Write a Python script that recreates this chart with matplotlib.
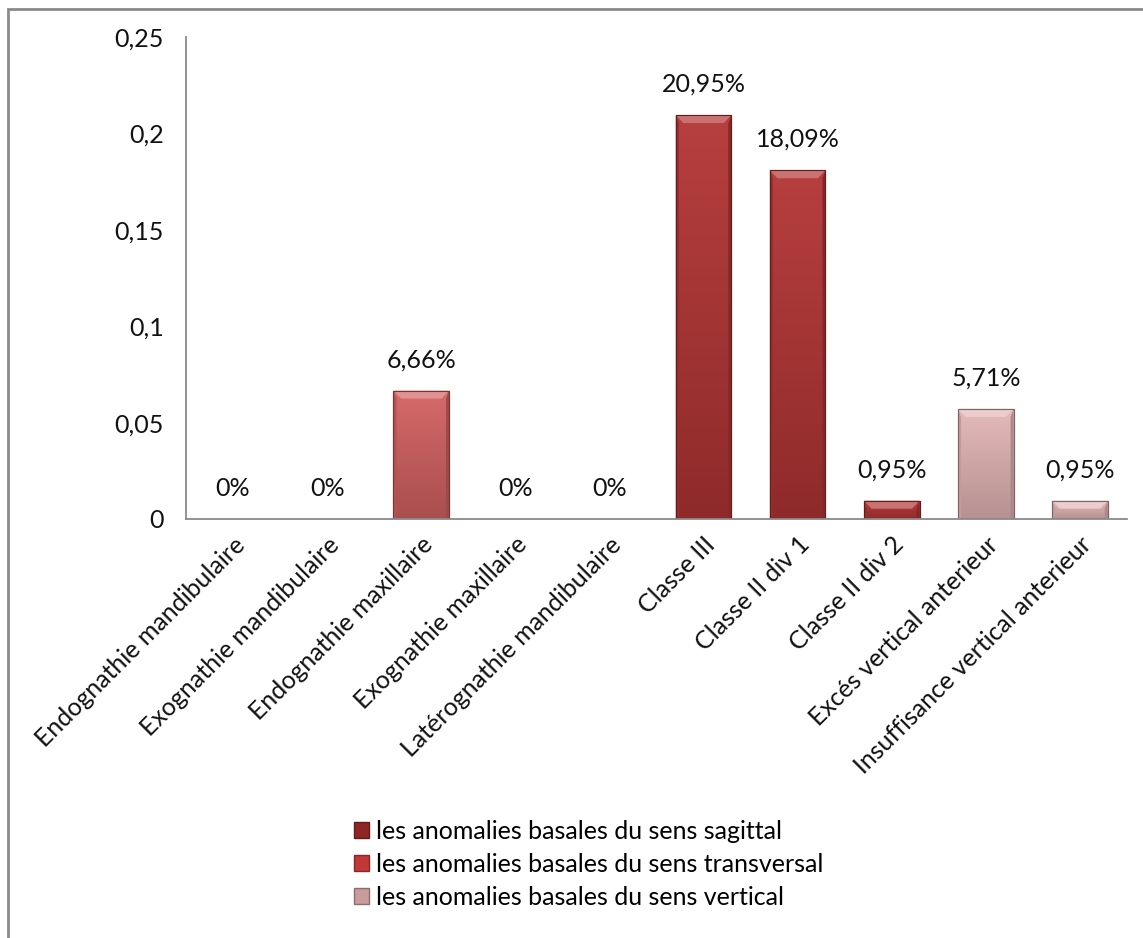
import matplotlib
matplotlib.use("Agg")
import matplotlib.pyplot as plt
import numpy as np
from matplotlib.patches import Rectangle, Polygon
from matplotlib.colors import to_rgb

plt.rcParams['font.family'] = ['Lato', 'DejaVu Sans']

categories = [
    "Endognathie mandibulaire",
    "Exognathie mandibulaire",
    "Endognathie maxillaire",
    "Exognathie maxillaire",
    "Latérognathie mandibulaire",
    "Classe III",
    "Classe II div 1",
    "Classe II div 2",
    "Excés vertical anterieur",
    "Insuffisance vertical anterieur",
]

series_names = [
    "les anomalies basales du sens sagittal",
    "les anomalies basales du sens transversal",
    "les anomalies basales du sens vertical",
]

# one value per category for each series (None where the category belongs to another series)
sagittal = [None, None, None, None, None, 0.2095, 0.1809, 0.0095, None, None]
transversal = [0.0, 0.0, 0.0666, 0.0, 0.0, None, None, None, None, None]
vertical = [None, None, None, None, None, None, None, None, 0.0571, 0.0095]

value_labels = ["0%", "0%", "6,66%", "0%", "0%", "20,95%", "18,09%", "0,95%", "5,71%", "0,95%"]

yticks = [0, 0.05, 0.1, 0.15, 0.2, 0.25]
ytick_labels = ["0", "0,05", "0,1", "0,15", "0,2", "0,25"]

bar_colors = ["#b33535", "#d46262", "#e4b6b6"]
legend_colors = ["#8e2626", "#c23838", "#c79c9c"]

FS = 18


def shade(c, f):
    r, g, b = to_rgb(c)
    if f >= 0:
        return (r + (1 - r) * f, g + (1 - g) * f, b + (1 - b) * f)
    return (r * (1 + f), g * (1 + f), b * (1 + f))


W, H = 1143, 938
fig = plt.figure(figsize=(W / 100, H / 100), dpi=100)
fig.patch.set_facecolor("white")

# outer chart frame (only the top and left edges fall inside the canvas)
fig.patches.append(Rectangle((8 / W, -0.05), 1.2, 1 - 9 / H + 0.05,
                             transform=fig.transFigure, fill=False,
                             edgecolor="#8a8a8a", linewidth=2.0, zorder=0))

ax = fig.add_axes([186 / W, 1 - 519 / H, (1127 - 186) / W, (519 - 37) / H])
ax.set_xlim(-0.5, len(categories) - 0.5)
ax.set_ylim(0, 0.25)

x = np.arange(len(categories))
bw = 0.59

# pixel-to-data scale for the bevel effect
px_x = 1.0 / 94.1
px_y = 0.25 / 482.0

for vals, col in zip([sagittal, transversal, vertical], bar_colors):
    xs = [xi for xi, v in zip(x, vals) if v is not None]
    hs = [v for v in vals if v is not None]
    bars = ax.bar(xs, hs, width=bw, color=col, edgecolor=shade(col, -0.45),
                  linewidth=0.8, zorder=2)
    for p in bars:
        h = p.get_height()
        if h <= 0:
            continue
        x0 = p.get_x()
        x1 = x0 + p.get_width()
        # vertical gradient, lighter at top
        grad = np.linspace(0, 1, 64).reshape(-1, 1)
        top_c = np.array(shade(col, 0.05))
        bot_c = np.array(shade(col, -0.2))
        img = bot_c[None, None, :] * (1 - grad[..., None]) + top_c[None, None, :] * grad[..., None]
        im = ax.imshow(img, extent=[x0, x1, 0, h], origin="lower",
                       aspect="auto", zorder=2.1, interpolation="bilinear")
        im.set_clip_path(p)
        bh = min(8 * px_y, h * 0.45)
        sw = 3 * px_x
        # top bevel
        ax.add_patch(Polygon([(x0, h), (x1, h), (x1 - sw * 2.5, h - bh), (x0 + sw * 2.5, h - bh)],
                             closed=True, facecolor=shade(col, 0.3), edgecolor="none", zorder=2.2))
        # side bevels
        ax.add_patch(Polygon([(x0, h), (x0 + sw, h - bh), (x0 + sw, 0), (x0, 0)],
                             closed=True, facecolor=shade(col, -0.15), edgecolor="none", zorder=2.2))
        ax.add_patch(Polygon([(x1, h), (x1 - sw, h - bh), (x1 - sw, 0), (x1, 0)],
                             closed=True, facecolor=shade(col, -0.25), edgecolor="none", zorder=2.2))
        ax.add_patch(Rectangle((x0, 0), x1 - x0, h, fill=False,
                               edgecolor=shade(col, -0.45), linewidth=0.8, zorder=2.3))

# value labels above each category
all_vals = [next(v for v in (s, t, vv) if v is not None)
            for s, t, vv in zip(sagittal, transversal, vertical)]
for xi, v, lab in zip(x, all_vals, value_labels):
    ax.annotate(lab, (xi, v), xytext=(0, 14), textcoords="offset points",
                ha="center", va="bottom", fontsize=FS, color="#111111", zorder=5)

for s in ["top", "right"]:
    ax.spines[s].set_visible(False)
for s in ["left", "bottom"]:
    ax.spines[s].set_color("#8a8a8a")
    ax.spines[s].set_linewidth(1.3)

ax.set_yticks(yticks)
ax.set_yticklabels(ytick_labels, fontsize=FS, color="#111111")
ax.set_xticks(x)
ax.set_xticklabels(categories, rotation=45, ha="right", va="top",
                   rotation_mode="anchor", fontsize=FS, color="#111111")
ax.tick_params(axis="both", length=0)
ax.tick_params(axis="y", pad=16)
ax.tick_params(axis="x", pad=10)

handles = [Rectangle((0, 0), 1, 1, facecolor=c, edgecolor=shade(c, -0.3)) for c in legend_colors]
fig.legend(handles, series_names, loc="upper left", bbox_to_anchor=(344 / W, 1 - 810 / H),
           frameon=False, fontsize=FS, handlelength=0.6, handleheight=0.6,
           handletextpad=0.3, labelspacing=0.4, borderaxespad=0)

fig.savefig("out.png", dpi=100, facecolor="white")
